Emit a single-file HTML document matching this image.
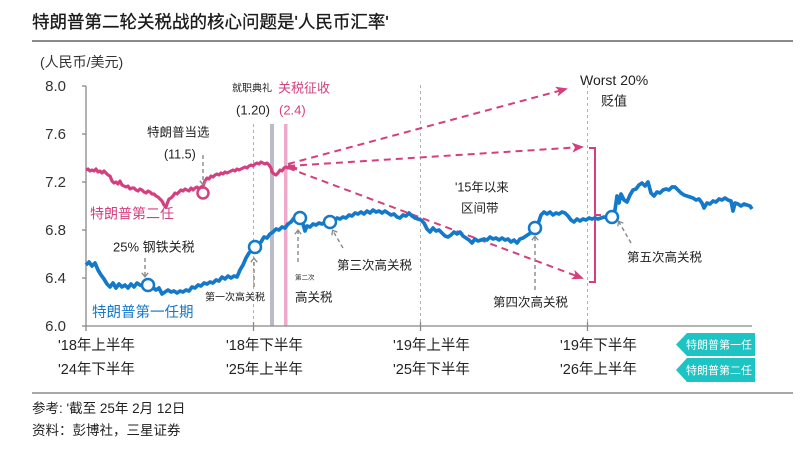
<!DOCTYPE html>
<html><head><meta charset="utf-8">
<style>
html,body{margin:0;padding:0;background:#fff;}
svg{display:block;}
text{font-family:"Liberation Sans","Noto Sans CJK SC",sans-serif;}
</style></head>
<body>
<svg width="800" height="450" viewBox="0 0 800 450" xmlns="http://www.w3.org/2000/svg">
<defs>
<marker id="pa" viewBox="0 0 12 10" refX="10" refY="5" markerWidth="12" markerHeight="10" markerUnits="userSpaceOnUse" orient="auto">
<path d="M0,0 L12,5 L0,10 L3,5 z" fill="#d4407f"/>
</marker>
<marker id="ga" viewBox="0 0 10 10" refX="5" refY="5" markerWidth="8" markerHeight="8" markerUnits="userSpaceOnUse" orient="auto">
<path d="M1,1 L6,5 L1,9" fill="none" stroke="#888" stroke-width="1.6"/>
</marker>
</defs>

<!-- title -->
<text x="32" y="28" font-size="17.5" fill="#1a1a1a" stroke="#1a1a1a" stroke-width="0.3">特朗普第二轮关税战的核心问题是'人民币汇率'</text>
<line x1="32" y1="41" x2="793" y2="41" stroke="#8a8a8a" stroke-width="2"/>

<text x="40" y="67" font-size="14" fill="#333">(人民币/美元)</text>

<!-- y labels -->
<g font-size="15" fill="#333" text-anchor="end">
<text x="66" y="91">8.0</text>
<text x="66" y="139">7.6</text>
<text x="66" y="187">7.2</text>
<text x="66" y="235">6.8</text>
<text x="66" y="283">6.4</text>
<text x="66" y="331">6.0</text>
</g>

<!-- vertical reference lines -->
<g stroke="#b0b0b0" stroke-width="1" stroke-dasharray="3,3">
<line x1="253.5" y1="124" x2="253.5" y2="326"/>
<line x1="420.5" y1="85" x2="420.5" y2="326"/>
<line x1="587.5" y1="85" x2="587.5" y2="326"/>
</g>
<rect x="270" y="124" width="4" height="202" fill="#b9bcc8"/>
<rect x="284" y="124" width="3.5" height="202" fill="#efaacb"/>

<!-- axes -->
<g stroke="#888" stroke-width="1.3">
<line x1="86" y1="86" x2="86" y2="326"/>
<line x1="86" y1="326" x2="752" y2="326"/>
<line x1="82" y1="86" x2="86" y2="86"/>
<line x1="82" y1="134" x2="86" y2="134"/>
<line x1="82" y1="182" x2="86" y2="182"/>
<line x1="82" y1="230" x2="86" y2="230"/>
<line x1="82" y1="278" x2="86" y2="278"/>
<line x1="82" y1="326" x2="86" y2="326"/>
<line x1="86" y1="326" x2="86" y2="331"/>
<line x1="253.5" y1="322" x2="253.5" y2="331"/>
<line x1="420.5" y1="322" x2="420.5" y2="331"/>
<line x1="587.5" y1="322" x2="587.5" y2="331"/>
</g>

<!-- pink dashed projections -->
<g stroke="#d4407f" stroke-width="2" stroke-dasharray="7,5" fill="none">
<line x1="288" y1="164" x2="566" y2="89" marker-end="url(#pa)"/>
<line x1="288" y1="166" x2="582" y2="147" marker-end="url(#pa)"/>
<line x1="288" y1="168" x2="582" y2="278" marker-end="url(#pa)"/>
</g>
<!-- bracket -->
<g stroke="#d4407f" stroke-width="2" fill="none">
<polyline points="589,148 595,148 595,282 589,282"/>
<line x1="595" y1="215" x2="601" y2="215"/>
</g>

<!-- pink series -->
<polyline fill="none" stroke="#d4407f" stroke-width="3.2" stroke-linejoin="round" points="86,170 88,169 90,171 92,170 94,171 96,169 98,172 100,171 102,173 104,171 106,173 108,175 110,176 112,181 114,183 116,182 118,184 120,181 122,185 124,186 126,187 128,186 130,189 132,188 134,188 136,190 138,191 140,189 142,190 144,192 146,193 148,191 150,192 152,194 154,194 156,196 158,197 160,199 162,201 164,205 166,207 167,204 169,199 171,198 173,196 175,193 177,194 179,192 181,190 183,191 185,189 187,190 189,191 191,188 193,190 195,188 197,187 199,189 201,187 203,186 205,181 207,178 209,179 211,176 213,177 215,175 217,174 219,175 221,173 223,174 225,172 227,173 229,172 231,171 233,170 235,171 237,169 239,170 241,169 243,168 245,167 247,168 249,166 251,165 253,166 255,164 257,163 259,164 261,162 263,163 265,164 267,163 269,165 271,168 272,172 274,174 276,175 278,173 280,170 282,171 284,168 286,167 288,168 290,166 292,167 294,168 297,169"/>
<circle cx="203" cy="193" r="5.5" fill="#fff" stroke="#d4407f" stroke-width="2.5"/>

<!-- blue series -->
<polyline fill="none" stroke="#1479c9" stroke-width="3.7" stroke-linejoin="round" points="86,265 89,262 92,266 95,263 98,270 101,275 104,279 107,284 110,287 113,283 116,288 119,284 122,287 125,285 128,288 131,284 134,287 137,283 140,285 143,286 148,285 152,287 156,290 159,288 162,294 165,292 168,290 171,292 174,291 177,293 180,291 183,292 186,290 189,291 192,287 195,288 198,285 201,286 204,283 207,284 210,282 213,283 216,280 219,281 222,277 225,279 228,276 231,278 234,276 237,277 240,270 243,265 246,258 249,253 252,250 255,247 258,244 261,242 264,237 267,238 270,234 273,232 276,229 279,230 282,227 285,228 288,224 291,222 294,218 297,220 300,218 303,224 305,231 307,226 310,227 313,224 316,225 319,223 322,224 325,222 330,222 334,221 337,218 340,219 343,217 346,218 349,215 352,216 355,213 358,214 361,212 364,214 367,211 370,213 373,210 376,212 379,211 382,213 385,211 388,213 391,215 394,214 397,217 400,218 403,215 406,216 409,213 412,216 415,218 418,219 421,220 424,223 427,229 430,232 433,228 436,231 439,230 442,233 445,236 448,237 451,235 454,232 457,234 460,232 463,236 466,238 469,240 472,243 475,239 478,241 481,240 484,239 487,240 490,237 493,239 496,238 499,240 502,238 505,240 508,239 511,242 514,240 517,243 520,239 523,238 526,236 529,234 532,232 535,228 538,224 541,215 544,212 547,214 550,212 553,215 556,213 559,214 562,212 565,213 568,216 571,220 574,222 577,219 580,221 583,219 586,220 589,218 592,219 595,218 598,219 601,218 604,217 608,218 612,217 615,210 617,196 619,203 621,194 624,200 627,202 630,195 633,190 636,189 639,185 642,183 645,186 648,182 651,193 654,196 657,192 660,193 663,190 666,189 669,190 672,187 675,187 678,190 681,193 684,195 687,196 690,197 693,198 696,200 699,199 702,203 704,208 707,203 710,204 713,201 716,202 719,199 722,200 725,198 728,200 731,201 733,211 735,203 738,204 741,206 744,204 747,205 750,206 752,209"/>
<g fill="#fff" stroke="#1479c9" stroke-width="2.5">
<circle cx="148" cy="285" r="6"/>
<circle cx="255" cy="247" r="6"/>
<circle cx="300" cy="218" r="6"/>
<circle cx="330" cy="222" r="6"/>
<circle cx="535" cy="228" r="6"/>
<circle cx="612" cy="217" r="6"/>
</g>

<!-- gray annotation arrows -->
<g stroke="#888" stroke-width="1.4" stroke-dasharray="4,3" fill="none">
<line x1="203" y1="155" x2="203" y2="184" marker-end="url(#ga)"/>
<line x1="145" y1="258" x2="145" y2="276" marker-end="url(#ga)"/>
<line x1="254" y1="287" x2="254" y2="259" marker-end="url(#ga)"/>
<line x1="298" y1="262" x2="298" y2="231" marker-end="url(#ga)"/>
<line x1="343" y1="248" x2="333" y2="231" marker-end="url(#ga)"/>
<line x1="535" y1="290" x2="535" y2="237" marker-end="url(#ga)"/>
<line x1="631" y1="243" x2="619" y2="222" marker-end="url(#ga)"/>
</g>

<!-- annotation text -->
<g fill="#222">
<text x="232" y="91.5" font-size="10">就职典礼</text>
<text x="236" y="114.5" font-size="13">(1.20)</text>
<text x="580" y="85" font-size="14">Worst 20%</text>
<text x="601" y="105.5" font-size="13">贬值</text>
<text x="147" y="136.5" font-size="12.5">特朗普当选</text>
<text x="164" y="158.5" font-size="12.5">(11.5)</text>
<text x="113" y="251.5" font-size="13">25% 钢铁关税</text>
<text x="205" y="300.5" font-size="10">第一次高关税</text>
<text x="295" y="279.5" font-size="6.5">第二次</text>
<text x="295" y="301.5" font-size="12.5">高关税</text>
<text x="337" y="269.5" font-size="12.5">第三次高关税</text>
<text x="455" y="191.5" font-size="12.5">'15年以来</text>
<text x="461" y="212.5" font-size="12.5">区间带</text>
<text x="493" y="306.5" font-size="12.5">第四次高关税</text>
<text x="627" y="261.5" font-size="12.5">第五次高关税</text>
</g>
<text x="278" y="92.5" font-size="13" fill="#d4407f">关税征收</text>
<text x="279" y="114.5" font-size="13" fill="#d4407f">(2.4)</text>
<text x="90" y="218.5" font-size="14" fill="#d4407f">特朗普第二任</text>
<text x="92" y="317" font-size="14.5" fill="#1479c9">特朗普第一任期</text>

<!-- x labels -->
<g font-size="14.5" fill="#222">
<text x="58" y="350">'18年上半年</text>
<text x="58" y="374">'24年下半年</text>
<text x="226" y="350">'18年下半年</text>
<text x="226" y="374">'25年上半年</text>
<text x="393" y="350">'19年上半年</text>
<text x="393" y="374">'25年下半年</text>
<text x="560" y="350">'19年下半年</text>
<text x="560" y="374">'26年上半年</text>
</g>

<!-- legend tags -->
<polygon points="676,344.5 687,333 755,333 755,356 687,356" fill="#1ec3c3"/>
<polygon points="676,370 687,358 755,358 755,382 687,382" fill="#1ec3c3"/>
<text x="719" y="348.5" font-size="11" fill="#fff" text-anchor="middle">特朗普第一任</text>
<text x="719" y="374" font-size="11" fill="#fff" text-anchor="middle">特朗普第二任</text>

<!-- footer -->
<line x1="32" y1="393" x2="793" y2="393" stroke="#8a8a8a" stroke-width="1.5"/>
<text x="32" y="413" font-size="13.5" fill="#222">参考: '截至 25年 2月 12日</text>
<text x="32" y="435" font-size="13.5" fill="#222">资料：彭博社，三星证券</text>
</svg>
</body></html>
